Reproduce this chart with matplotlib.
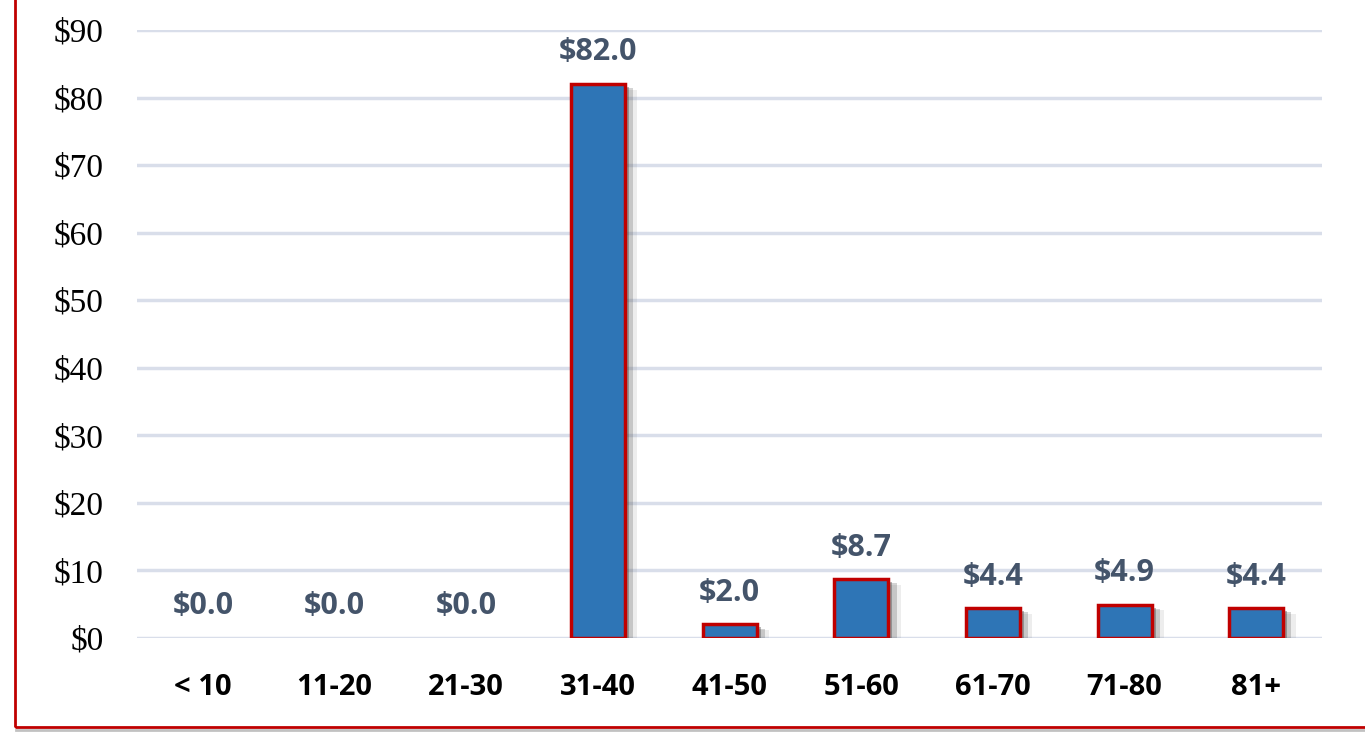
import matplotlib.pyplot as plt
import matplotlib.patheffects as pe
from matplotlib.patches import Rectangle
from matplotlib.lines import Line2D

# Data
age_groups = ["< 10", "11-20", "21-30", "31-40", "41-50", "51-60", "61-70", "71-80", "81+"]
amounts = [0.0, 0.0, 0.0, 82.0, 2.0, 8.7, 4.4, 4.9, 4.4]
y_ticks = [0, 10, 20, 30, 40, 50, 60, 70, 80, 90]

# Figure and axes placement
fig = plt.figure(figsize=(13.65, 7.34), dpi=100)
ax = fig.add_axes([0.1004, 0.1308, 0.8681, 0.8283])

# Gridlines behind the bars
for t in y_ticks:
    ax.axhline(t, color="#D9DEEA", linewidth=2.5, zorder=0)

# Bars with a soft (layered) shadow on the right; empty bars draw nothing
x = list(range(len(age_groups)))
bars = ax.bar(x, amounts, width=0.41, color="#2E75B6", edgecolor="#C00000",
              linewidth=2.5, zorder=3)
for b, v in zip(bars, amounts):
    if v == 0:
        b.set_visible(False)
        continue
    b.set_path_effects([pe.SimplePatchShadow(offset=(9, -4), shadow_rgbFace="#888888", alpha=0.15),
                        pe.SimplePatchShadow(offset=(6, -3), shadow_rgbFace="#555555", alpha=0.25),
                        pe.SimplePatchShadow(offset=(3, -2), shadow_rgbFace="#333333", alpha=0.35),
                        pe.Normal()])

# Value labels above the bars
for xi, v in zip(x, amounts):
    ax.annotate("$" + format(v, ".1f"), (xi, v), xytext=(0, 12), textcoords="offset points",
                ha="center", va="bottom", fontsize=22, fontweight="bold",
                color="#44546A", family="Open Sans")

# Axes styling
ax.set_xlim(-0.5, len(age_groups) - 0.5)
ax.set_ylim(0, 90)
ax.set_yticks(y_ticks)
ax.set_yticklabels(["$" + str(t) for t in y_ticks], family="Liberation Serif", fontsize=24)
ax.set_xticks(x)
ax.set_xticklabels(age_groups, fontsize=21, fontweight="bold", family="Open Sans")
ax.tick_params(axis="y", length=0, pad=24)
ax.tick_params(axis="x", length=0, pad=25)
for s in ax.spines.values():
    s.set_visible(False)

# Red frame around the chart area (cut by the image edge on top and right)
frame = Rectangle((0.011, 0.0095), 1.2, 1.2, transform=fig.transFigure, fill=False,
                  edgecolor="#C00000", linewidth=2, clip_on=False)
fig.patches.append(frame)
shadow = Line2D([0.012, 1.0], [0.005, 0.005], transform=fig.transFigure,
                color="#999999", linewidth=2, alpha=0.6)
fig.lines.append(shadow)

fig.savefig("out.png", dpi=100)
